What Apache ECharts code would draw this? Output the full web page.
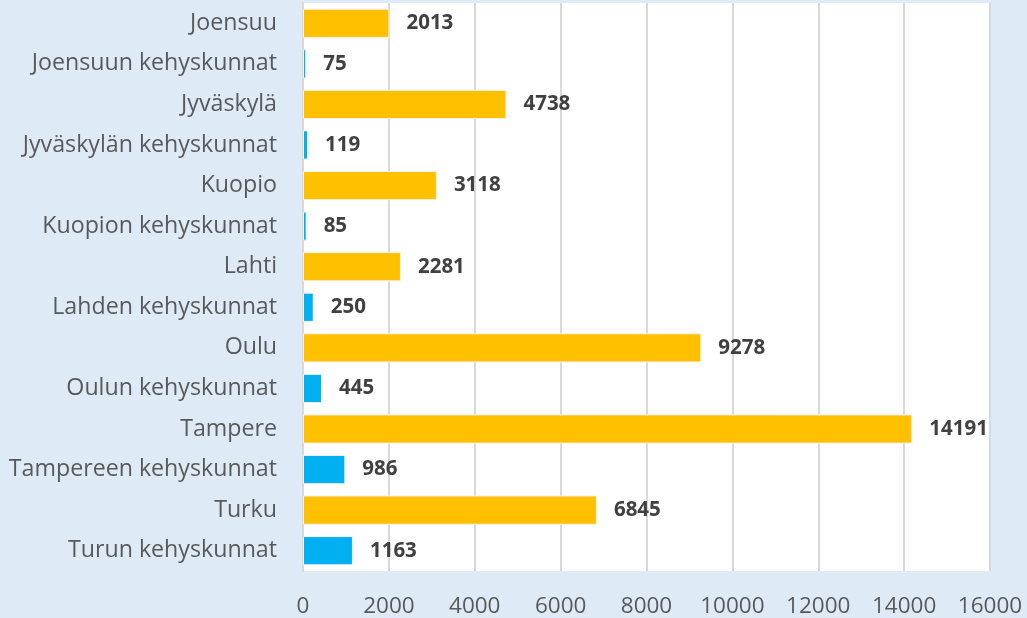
<!DOCTYPE html>
<html>
<head>
<meta charset="utf-8">
<script src="https://cdn.jsdelivr.net/npm/echarts@6/dist/echarts.min.js"></script>
<style>
  html, body { margin: 0; padding: 0; background: #deeaf6; }
  #chart { width: 1027px; height: 618px; }
</style>
</head>
<body>
<div id="chart"></div>
<script>
// Regions, top to bottom
const categories = [
  'Joensuu', 'Joensuun kehyskunnat',
  'Jyväskylä', 'Jyväskylän kehyskunnat',
  'Kuopio', 'Kuopion kehyskunnat',
  'Lahti', 'Lahden kehyskunnat',
  'Oulu', 'Oulun kehyskunnat',
  'Tampere', 'Tampereen kehyskunnat',
  'Turku', 'Turun kehyskunnat'
];
const values = [2013, 75, 4738, 119, 3118, 85, 2281, 250, 9278, 445, 14191, 986, 6845, 1163];
const xTicks = [0, 2000, 4000, 6000, 8000, 10000, 12000, 14000, 16000];

const cityColor = '#ffc000';
const surroundColor = '#00b0f0';

const chart = echarts.init(document.getElementById('chart'));
chart.setOption({
  backgroundColor: '#deeaf6',
  animation: false,
  grid: {
    left: 303, right: 37, top: 3, bottom: 46,
    show: true, backgroundColor: '#ffffff', borderWidth: 0
  },
  xAxis: {
    type: 'value',
    min: xTicks[0],
    max: xTicks[xTicks.length - 1],
    interval: xTicks[1] - xTicks[0],
    axisLine: { show: false },
    axisTick: { show: false },
    splitLine: { show: true, lineStyle: { color: '#d9d9d9', width: 2 } },
    axisLabel: {
      color: '#595959', fontSize: 22.5, fontFamily: 'Open Sans', margin: 24,
      formatter: v => String(v)
    }
  },
  yAxis: {
    type: 'category',
    inverse: true,
    data: categories,
    axisLine: { show: true, lineStyle: { color: '#d9d9d9', width: 2 } },
    axisTick: { show: false },
    axisLabel: { color: '#595959', fontSize: 23.2, fontFamily: 'Open Sans', margin: 26 }
  },
  series: [{
    type: 'bar',
    data: values.map((v, i) => ({
      value: v,
      itemStyle: { color: i % 2 === 0 ? cityColor : surroundColor }
    })),
    barCategoryGap: '28%',
    itemStyle: { borderColor: '#f2f2f2', borderWidth: 1 },
    label: {
      show: true,
      position: 'right',
      distance: 17,
      color: '#404040',
      fontSize: 20.5,
      fontWeight: 'bold',
      fontFamily: 'Open Sans'
    }
  }]
});
</script>
</body>
</html>
